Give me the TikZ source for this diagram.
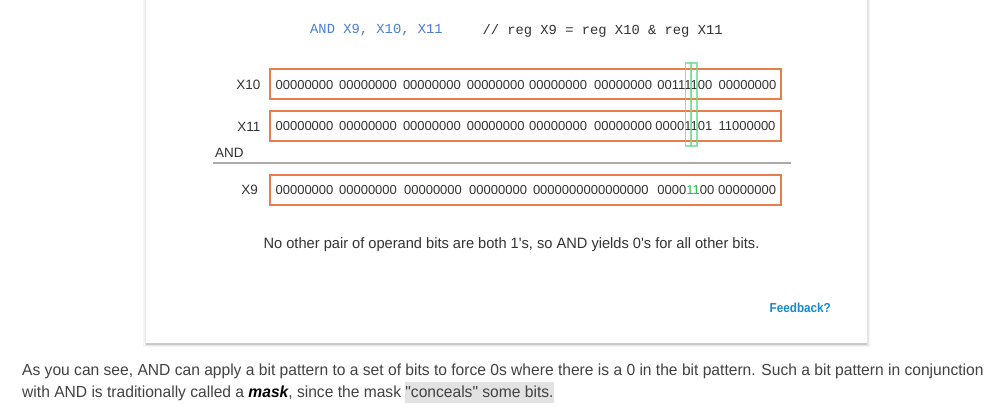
\documentclass[tikz,border=0pt]{standalone}
\usepackage{fontspec}
\setmainfont{Liberation Sans}
\newfontfamily\rob[FakeStretch=0.975]{Liberation Sans}
\newfontfamily\robn[FakeStretch=0.9]{Liberation Sans}
\newfontfamily\mono{Liberation Mono}
\definecolor{orangebox}{RGB}{233,125,72}
\definecolor{codeblue}{RGB}{74,125,214}
\definecolor{txt}{RGB}{51,51,51}
\definecolor{para}{RGB}{66,66,66}
\definecolor{hlgreen}{RGB}{110,215,140}
\definecolor{bitgreen}{RGB}{30,190,60}
\definecolor{fbblue}{RGB}{20,138,210}
\definecolor{hlgray}{RGB}{226,226,226}
\definecolor{rulegray}{RGB}{170,170,170}
\tikzset{
  regbox/.style={draw=orangebox, line width=1.8pt, minimum width=511pt, minimum height=30pt, inner sep=0pt},
  bits/.style={anchor=west, inner sep=0pt, font=\fontsize{13}{15}\selectfont, text=txt},
  reglabel/.style={anchor=east, inner sep=0pt, font=\fontsize{13.5}{15}\selectfont, text=txt},
  colmark/.style={draw=hlgreen, draw opacity=0.75, line width=1.3pt, minimum width=6pt, minimum height=83pt, inner sep=0pt},
  paratext/.style={anchor=base west, inner sep=0pt, font=\rob\fontsize{16}{20}\selectfont, text=para},
}
\begin{document}
\begin{tikzpicture}[x=1pt,y=-1pt]
\useasboundingbox (0,0) rectangle (1007,406);
\fill[white] (0,0) rectangle (1007,406);
% card with shadow
\fill[black, opacity=0.04] (143,-5) rectangle (870,347);
\fill[black, opacity=0.06] (144.5,-5) rectangle (868.5,345.5);
\fill[black, opacity=0.12] (146,-5) rectangle (867,344.5);
\node[fill=white, inner sep=0pt, minimum width=721pt, minimum height=348pt, anchor=south west] (card) at (146,343) {};

% header
\node[anchor=west, inner sep=0pt, font=\mono\fontsize{13.8}{15}\selectfont, text=codeblue] (hdr) at (310,30.5) {AND X9, X10, X11};
\node[anchor=west, inner sep=0pt, font=\mono\fontsize{13.8}{15}\selectfont, text=txt] (cmt) at (482.3,30.5) {// reg X9 = reg X10 \& reg X11};

% register boxes
\node[regbox] (b10) at (525.5,84.3) {};
\node[regbox] (b11) at (525.5,126) {};
\node[regbox] (b9) at (525.5,190) {};

% labels
\node[reglabel] (l10) at (260.5,85) {X10};
\node[reglabel] (l11) at (260.5,126.5) {X11};
\node[reglabel] (l9) at (258,189.5) {X9};
\node[anchor=west, inner sep=0pt, font=\fontsize{13.5}{15}\selectfont, text=txt] (andl) at (215,153) {AND};

% X10 bits
\foreach \x/\g [count=\i] in {275.4/00000000, 338.9/00000000, 402.8/00000000, 466.6/00000000, 529.0/00000000, 594.0/00000000, 657.2/00111100, 718.4/00000000}
  \node[bits] (r10g\i) at (\x,85) {\g};
% X11 bits
\foreach \x/\g [count=\i] in {275.4/00000000, 338.9/00000000, 402.8/00000000, 466.6/00000000, 529.0/00000000, 594.0/00000000, 655.2/00001101, 718.4/11000000}
  \node[bits] (r11g\i) at (\x,126.5) {\g};
% X9 bits
\foreach \x/\g [count=\i] in {275.4/00000000, 338.9/00000000, 403.9/00000000, 469.0/00000000, 532.8/0000000000000000, 657.2/0000{\color{bitgreen}11}00, 718.0/00000000}
  \node[bits] (r9g\i) at (\x,190) {\g};

% column markers
\node[colmark] (m1) at (688.3,104.5) {};
\node[colmark] (m2) at (694.0,104.5) {};

% separator
\coordinate (s1) at (213,163.3);
\coordinate (s2) at (791,163.3);
\draw[rulegray, line width=1.6pt] (s1) -- (s2);

% note
\node[anchor=center, inner sep=0pt, font=\rob\fontsize{15}{18}\selectfont, text=txt] (note) at (511.5,245) {No other pair of operand bits are both 1's, so AND yields 0's for all other bits.};

% feedback
\node[anchor=west, inner sep=0pt, font=\robn\fontsize{13}{15}\selectfont\bfseries, text=fbblue] (fb) at (769.5,308) {Feedback?};

% paragraph
\node[paratext] (p1) at (22,375.5) {As you can see, AND can apply a bit pattern to a set of bits to force 0s where there is a 0 in the bit pattern. Such a bit pattern in conjunction};
\node[paratext] (p2) at (22,397.5) {with AND is traditionally called a {\color{black}\bfseries\itshape mask}, since the mask {\setlength{\fboxsep}{0pt}\colorbox{hlgray}{\rule[-5pt]{0pt}{21pt}"conceals" some bits.}}};
\end{tikzpicture}
\end{document}
